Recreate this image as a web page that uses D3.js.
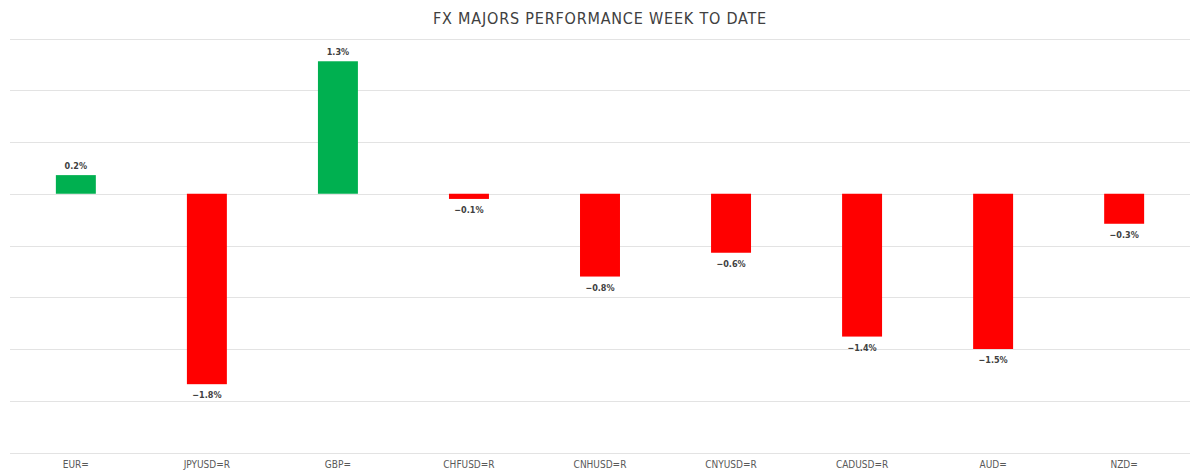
<!DOCTYPE html>
<html>
<head>
<meta charset="utf-8">
<script src="https://cdn.jsdelivr.net/npm/d3@7"></script>
<style>
  body { margin: 0; background: #fff; }
  text { font-family: "DejaVu Sans Condensed", "DejaVu Sans", sans-serif; font-stretch: condensed; }
</style>
</head>
<body>
<svg id="chart" width="1200" height="476"></svg>
<script>
const categories = ['EUR=', 'JPYUSD=R', 'GBP=', 'CHFUSD=R', 'CNHUSD=R', 'CNYUSD=R', 'CADUSD=R', 'AUD=', 'NZD='];
const values = [0.18, -1.84, 1.28, -0.05, -0.8, -0.57, -1.38, -1.5, -0.29];
const gridTicks = [1.5, 1.0, 0.5, 0, -0.5, -1.0, -1.5, -2.0, -2.5];

const svg = d3.select('#chart');
const margin = { left: 10, right: 10, top: 38.5, bottom: 23.5 };
const width = 1200, height = 476;

const x = d3.scaleBand()
  .domain(categories)
  .range([margin.left, width - margin.right])
  .paddingInner(0.695)
  .paddingOuter(0.35);

const y = d3.scaleLinear()
  .domain([1.5, -2.5])
  .range([margin.top, height - margin.bottom]);

// Gridlines
svg.append('g')
  .selectAll('line')
  .data(gridTicks)
  .enter()
  .append('line')
  .attr('x1', margin.left)
  .attr('x2', width - margin.right)
  .attr('y1', d => Math.round(y(d)) + 0.5)
  .attr('y2', d => Math.round(y(d)) + 0.5)
  .attr('stroke', '#e3e3e3')
  .attr('stroke-width', 1);

// Bars
svg.append('g')
  .selectAll('rect')
  .data(values)
  .enter()
  .append('rect')
  .attr('x', (d, i) => x(categories[i]))
  .attr('width', x.bandwidth())
  .attr('y', d => y(Math.max(0, d)))
  .attr('height', d => Math.abs(y(d) - y(0)))
  .attr('fill', d => d >= 0 ? '#00b050' : '#ff0000');

// Value labels
svg.append('g')
  .selectAll('text')
  .data(values)
  .enter()
  .append('text')
  .attr('x', (d, i) => x(categories[i]) + x.bandwidth() / 2)
  .attr('y', d => d >= 0 ? y(d) - 6 : y(d) + 14)
  .attr('text-anchor', 'middle')
  .attr('font-size', 9)
  .attr('font-weight', 'bold')
  .attr('fill', '#404040')
  .text(d => d3.format('.1f')(d).replace('-', '−') + '%');

// Category axis labels
svg.append('g')
  .selectAll('text')
  .data(categories)
  .enter()
  .append('text')
  .attr('x', d => x(d) + x.bandwidth() / 2)
  .attr('y', 468)
  .attr('text-anchor', 'middle')
  .attr('font-size', 10)
  .attr('fill', '#595959')
  .text(d => d);

// Title
svg.append('text')
  .attr('x', width / 2)
  .attr('y', 24)
  .attr('text-anchor', 'middle')
  .attr('font-size', 16)
  .attr('letter-spacing', 0.8)
  .attr('fill', '#404040')
  .text('FX MAJORS PERFORMANCE WEEK TO DATE');
</script>
</body>
</html>
